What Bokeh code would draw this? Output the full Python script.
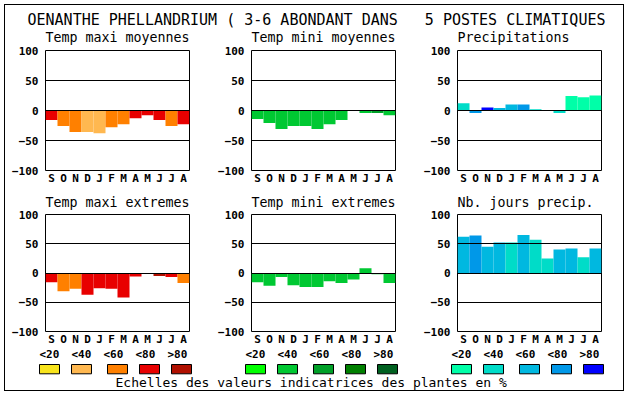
from bokeh.plotting import figure
from bokeh.layouts import column, row
from bokeh.models import Range1d, FixedTicker
from bokeh.core.properties import value
from bokeh.embed import file_html
from bokeh.resources import INLINE

# ---------------- data ----------------
months = ["S", "O", "N", "D", "J", "F", "M", "A", "M", "J", "J", "A"]
y_ticks = [-100, -50, 0, 50, 100]
legend_labels = ["<20", "<40", "<60", "<80", ">80"]

warm = ["#f8e41c", "#ffb850", "#ff8000", "#e80000", "#b01000"]
greens = ["#00ff00", "#00c832", "#00a028", "#008000", "#006020"]
blues = ["#00ffa8", "#00dcc8", "#00b8e0", "#0098e8", "#0000ff"]

titles_row1 = ["Temp maxi moyennes", "Temp mini moyennes", "Precipitations"]
titles_row2 = ["Temp maxi extremes", "Temp mini extremes", "Nb. jours precip."]

tmax_moy = [-16, -26, -36, -36, -38, -28, -23, -13, -8, -16, -26, -23]
tmax_moy_cls = [3, 2, 2, 1, 1, 2, 2, 3, 3, 3, 2, 3]
tmin_moy = [-14, -21, -31, -26, -26, -31, -23, -16, 0, -4, -4, -8]
tmin_moy_cls = [1, 1, 1, 1, 1, 1, 1, 1, 1, 1, 2, 1]
precip = [12, -4, 5, 4, 10, 10, 2, 0, -4, 24, 22, 25]
precip_cls = [1, 3, 4, 2, 2, 3, 1, 1, 1, 0, 0, 0]
tmax_ext = [-16, -31, -27, -37, -26, -27, -42, -6, 0, -5, -7, -17]
tmax_ext_cls = [3, 2, 2, 3, 3, 3, 3, 3, 3, 4, 3, 2]
tmin_ext = [-16, -22, -7, -21, -24, -24, -14, -17, -11, 8, -2, -17]
tmin_ext_cls = [1, 1, 1, 1, 1, 1, 1, 1, 1, 1, 1, 1]
njours = [62, 64, 45, 52, 52, 65, 57, 25, 40, 42, 27, 42]
njours_cls = [2, 3, 2, 2, 1, 2, 1, 1, 2, 2, 1, 2]

main_title = "OENANTHE PHELLANDRIUM ( 3-6 ABONDANT DANS\u00a0\u00a0\u00a05 POSTES CLIMATIQUES"
footer = "Echelles des valeurs indicatrices des plantes en %"

MONO = value("DejaVu Sans Mono")
FONT = "DejaVu Sans Mono"

TOTAL_W = 618
COL_W = [206, 206, 206]
FRAME_LEFT = 40
FRAME_W = 144
COL_LEFTS = [0, COL_W[0], COL_W[0] + COL_W[1]]


def strip(h):
    s = figure(width=TOTAL_W, height=h, output_backend="svg", toolbar_location=None,
               x_range=Range1d(0, TOTAL_W), y_range=Range1d(h, 0), min_border=0, title=None)
    s.axis.visible = False
    s.grid.visible = False
    s.outline_line_color = None
    s.border_fill_color = "white"
    s.background_fill_color = "white"
    return s


def panel(vals, cls, palette, w, h, top, bottom):
    p = figure(width=w, height=h, output_backend="svg", toolbar_location=None,
               x_range=Range1d(-0.5, 11.5), y_range=Range1d(-100, 100),
               min_border_left=FRAME_LEFT, min_border_right=w - FRAME_LEFT - FRAME_W,
               min_border_top=top, min_border_bottom=bottom, title=None)
    xs = list(range(len(months)))
    colors = [palette[c] for c in cls]
    p.vbar(x=xs, top=vals, bottom=0, width=1.0, fill_color=colors, line_color=None)
    p.outline_line_color = "black"
    p.outline_line_width = 1
    p.outline_line_alpha = 1
    p.border_fill_color = "white"
    p.background_fill_color = "white"
    p.xgrid.visible = False
    p.ygrid.ticker = FixedTicker(ticks=y_ticks)
    p.ygrid.grid_line_color = "black"
    p.ygrid.grid_line_alpha = 1
    p.ygrid.grid_line_width = 1
    p.ygrid.level = "overlay"
    ya = p.yaxis[0]
    ya.ticker = FixedTicker(ticks=y_ticks)
    ya.axis_line_color = None
    ya.major_tick_in = 0
    ya.major_tick_out = 0
    ya.minor_tick_line_color = None
    ya.major_label_standoff = 7
    ya.major_label_text_font = FONT
    ya.major_label_text_font_style = "bold"
    ya.major_label_text_font_size = "11px"
    ya.major_label_text_color = "black"
    xa = p.xaxis[0]
    xa.ticker = FixedTicker(ticks=xs)
    xa.major_label_overrides = {i: m for i, m in zip(xs, months)}
    xa.axis_line_color = None
    xa.major_tick_in = 0
    xa.major_tick_out = 0
    xa.minor_tick_line_color = None
    xa.major_label_standoff = 1
    xa.major_label_text_font = FONT
    xa.major_label_text_font_style = "bold"
    xa.major_label_text_font_size = "11px"
    xa.major_label_text_color = "black"
    return p


# top strip: main title + first-row panel titles
TOP_H = 40
top = strip(TOP_H)
top.text(x=[22], y=[14], text=[main_title], text_font=MONO, text_font_size="15px",
         text_baseline="alphabetic", text_color="black")
top.text(x=[c + FRAME_LEFT for c in COL_LEFTS], y=[32] * 3, text=titles_row1,
         text_font=MONO, text_font_size="13.3px", text_baseline="alphabetic",
         text_color="black")

p1 = panel(tmax_moy, tmax_moy_cls, warm, COL_W[0], 142, 5, 17)
p2 = panel(tmin_moy, tmin_moy_cls, greens, COL_W[1], 142, 5, 17)
p3 = panel(precip, precip_cls, blues, COL_W[2], 142, 5, 17)

# middle strip: second-row panel titles
MID_H = 23
mid = strip(MID_H)
mid.text(x=[c + FRAME_LEFT for c in COL_LEFTS], y=[15] * 3, text=titles_row2,
         text_font=MONO, text_font_size="13.3px", text_baseline="alphabetic",
         text_color="black")

p4 = panel(tmax_ext, tmax_ext_cls, warm, COL_W[0], 138, 4, 14)
p5 = panel(tmin_ext, tmin_ext_cls, greens, COL_W[1], 138, 4, 14)
p6 = panel(njours, njours_cls, blues, COL_W[2], 138, 4, 14)

# legend + footer strip
LEG_H = 42
leg = strip(LEG_H)
palettes = [warm, greens, blues]
lab_x, lab_t, sw_l, sw_r, sw_c = [], [], [], [], []
for g, pal in enumerate(palettes):
    fl = COL_LEFTS[g] + FRAME_LEFT
    for k, t in enumerate(legend_labels):
        lx = fl - 6 + 32 * k
        lab_x.append(lx)
        lab_t.append(t)
        sx = lx + (4 if k >= 2 else 0)
        sw_l.append(sx)
        sw_r.append(sx + 20)
        sw_c.append(pal[k])
leg.text(x=lab_x, y=[6] * len(lab_x), text=lab_t, text_font=MONO,
         text_font_size="11px", text_font_style="bold", text_baseline="alphabetic",
         text_color="black")
leg.quad(left=sw_l, right=sw_r, top=[16] * len(sw_l), bottom=[25.3] * len(sw_l),
         fill_color=sw_c, line_color="black", line_width=1)
leg.text(x=[110], y=[34.2], text=[footer], text_font=MONO, text_font_size="13px",
         text_baseline="alphabetic", text_color="black")

layout = column(top, row(p1, p2, p3, spacing=0), mid, row(p4, p5, p6, spacing=0), leg,
                spacing=0, styles={"border": "1px solid black", "background": "white",
                                   "margin": "4px"})

open("out.html", "w").write(file_html(layout, INLINE))
